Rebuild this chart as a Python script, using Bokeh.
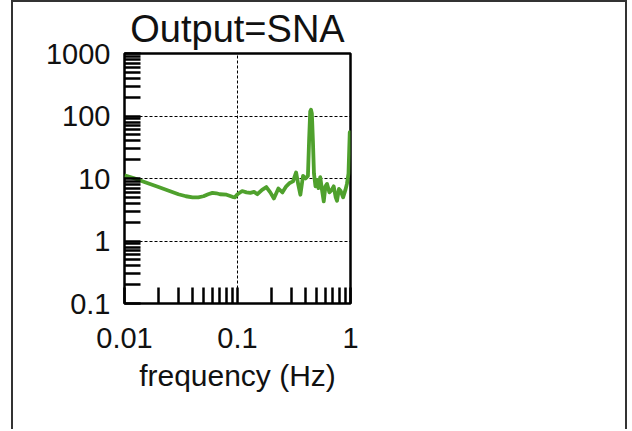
from bokeh.plotting import figure
from bokeh.models import Range1d, FixedTicker
from bokeh.embed import file_html
from bokeh.resources import INLINE

# ---- data ----
freq = [0.010, 0.012, 0.015, 0.020, 0.025, 0.030, 0.035, 0.040, 0.045, 0.050,
        0.055, 0.060, 0.065, 0.070, 0.080, 0.090, 0.095, 0.100, 0.110, 0.120,
        0.130, 0.140, 0.150, 0.165, 0.180, 0.195, 0.210, 0.230, 0.250, 0.270,
        0.290, 0.310, 0.330, 0.345, 0.360, 0.380, 0.400, 0.420, 0.430, 0.440,
        0.447, 0.455, 0.465, 0.475, 0.490, 0.505, 0.520, 0.540, 0.560, 0.580,
        0.600, 0.620, 0.650, 0.680, 0.710, 0.740, 0.760, 0.790, 0.820, 0.860,
        0.900, 0.930, 0.960, 0.975, 0.985, 1.000]
amp = [11.2, 10.2, 8.8, 7.3, 6.3, 5.6, 5.2, 5.0, 5.0, 5.2,
       5.6, 5.9, 5.8, 5.6, 5.5, 5.1, 5.0, 5.6, 6.3, 6.0,
       5.9, 6.1, 5.6, 6.6, 7.3, 6.0, 4.8, 6.9, 6.0, 7.5,
       8.5, 9.0, 12.5, 8.0, 5.5, 11.0, 10.0, 11.0, 40.0, 118.0,
       126.0, 110.0, 40.0, 12.0, 7.5, 9.5, 7.0, 10.5, 6.5, 4.3,
       7.5, 8.2, 6.0, 6.5, 7.5, 5.0, 4.4, 6.8, 6.3, 5.0,
       6.5, 8.2, 12.0, 30.0, 55.0, 45.0]

x_ticks = [0.01, 0.1, 1]
x_tick_labels = ["0.01", "0.1", "1"]
y_ticks = [0.1, 1, 10, 100, 1000]
y_tick_labels = ["0.1", "1", "10", "100", "1000"]
title_text = "Output=SNA"
x_label = "frequency (Hz)"

x_minor = [k * 10.0 ** e for e in (-2, -1) for k in range(2, 10)]
y_minor = [k * 10.0 ** e for e in (-1, 0, 1, 2) for k in range(2, 10)]

FONT = "Liberation Sans"
GREEN = "#4fa12d"

p = figure(width=616, height=429, x_axis_type="log", y_axis_type="log",
           x_range=Range1d(0.01, 1), y_range=Range1d(0.1, 1000),
           output_backend="svg", toolbar_location=None, title=title_text,
           min_border_left=111, min_border_right=279,
           min_border_top=51, min_border_bottom=128)

p.styles = {
    "border-left": "2px solid #333333",
    "border-right": "2px solid #333333",
    "border-top": "2px solid #333333",
    "margin-left": "11px",
}

p.background_fill_color = "white"
p.border_fill_color = "white"
p.outline_line_color = "black"
p.outline_line_width = 2.5

p.title.text_font = FONT
p.title.text_font_size = "38px"
p.title.text_font_style = "normal"
p.title.text_color = "#111111"
p.title.align = "center"
p.title.offset = 4
p.title.standoff = 7

p.xaxis.ticker = FixedTicker(ticks=x_ticks, minor_ticks=x_minor)
p.yaxis.ticker = FixedTicker(ticks=y_ticks, minor_ticks=y_minor)
p.xaxis.major_label_overrides = dict(zip(x_ticks, x_tick_labels))
p.yaxis.major_label_overrides = dict(zip(y_ticks, y_tick_labels))

for ax in (p.xaxis[0], p.yaxis[0]):
    ax.axis_line_color = None
    ax.major_tick_in = 16
    ax.major_tick_out = 0
    ax.minor_tick_in = 16
    ax.minor_tick_out = 0
    ax.major_tick_line_width = 2.5
    ax.minor_tick_line_width = 2.5
    ax.major_tick_line_color = "black"
    ax.minor_tick_line_color = "black"
    ax.major_label_text_font = FONT
    ax.major_label_text_font_size = "29px"
    ax.major_label_text_color = "#111111"

p.xaxis.major_label_standoff = 24
p.yaxis.major_label_standoff = 14
p.xaxis.axis_label = x_label
p.xaxis.axis_label_text_font = FONT
p.xaxis.axis_label_text_font_size = "30px"
p.xaxis.axis_label_text_font_style = "normal"
p.xaxis.axis_label_text_color = "#111111"
p.xaxis.axis_label_standoff = 8

for g in (p.xgrid[0], p.ygrid[0]):
    g.grid_line_color = "black"
    g.grid_line_width = 1
    g.grid_line_dash = "3 2"

p.line(freq, amp, line_color=GREEN, line_width=3.8, line_join="round")

open("out.html", "w").write(file_html(p, INLINE))
